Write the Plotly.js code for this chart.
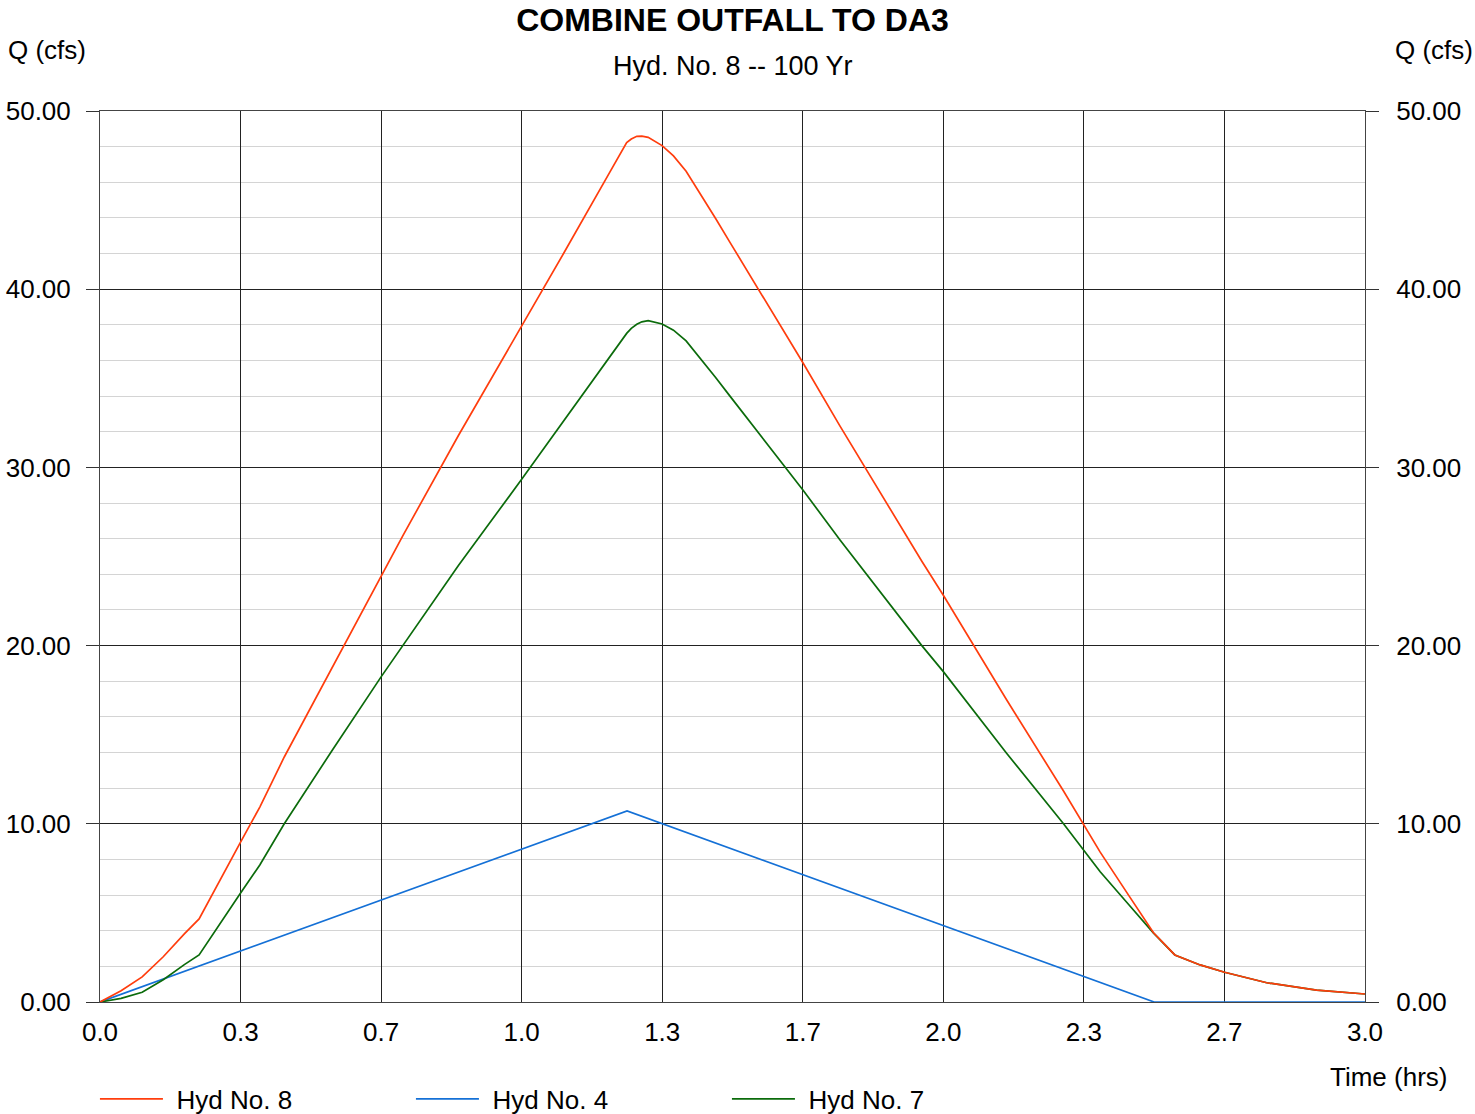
<!DOCTYPE html>
<html>
<head>
<meta charset="utf-8">
<script src="https://cdn.plot.ly/plotly-3.0.1.min.js"></script>
<style>
  html, body { margin: 0; padding: 0; background: #fff; }
  #chart { width: 1475px; height: 1114px; }
</style>
</head>
<body>
<div id="chart"></div>
<script>
// Hydrograph ordinates, time in hours, flow in cfs
const timeHyd7 = [0, 0.05, 0.10, 0.15, 0.20, 0.235, 0.333, 0.379, 0.437, 0.55, 0.667, 0.718, 0.85, 1.0, 1.1, 1.2,
  1.249, 1.26, 1.273, 1.285, 1.30, 1.333, 1.36, 1.39, 1.423, 1.46, 1.494, 1.55, 1.624, 1.667, 1.755, 1.85, 1.913,
  1.949, 2.0, 2.15, 2.285, 2.333, 2.372, 2.44, 2.498, 2.549, 2.609, 2.667, 2.767, 2.885, 3.0];
const flowHyd7 = [0, 0.2, 0.55, 1.25, 2.1, 2.64, 6.1, 7.69, 10.0, 14.1, 18.26, 20.0, 24.5, 29.33, 32.6, 35.9,
  37.52, 37.8, 38.03, 38.17, 38.23, 38.05, 37.7, 37.1, 36.15, 35.05, 34.0, 32.3, 30.0, 28.73, 25.93, 23.0, 21.06,
  20.0, 18.54, 13.96, 10.0, 8.53, 7.31, 5.46, 3.88, 2.64, 2.08, 1.67, 1.08, 0.67, 0.45];

const timeHyd8 = timeHyd7;
const flowHyd8 = [0, 0.63, 1.41, 2.54, 3.82, 4.66, 8.96, 10.94, 13.75, 18.75, 23.98, 26.16, 31.79, 37.91, 42.03, 46.19,
  48.23, 48.43, 48.58, 48.59, 48.52, 48.06, 47.48, 46.62, 45.39, 43.97, 42.63, 40.45, 37.51, 35.87, 32.32, 28.57, 26.08,
  24.73, 22.83, 16.96, 11.84, 9.96, 8.41, 5.97, 3.90, 2.64, 2.08, 1.67, 1.08, 0.67, 0.45];

const timeHyd4 = [0, 1.25, 2.5, 3.0];
const flowHyd4 = [0, 10.72, 0, 0];

const seriesNames = ['Hyd No. 8', 'Hyd No. 4', 'Hyd No. 7'];
const seriesColors = ['#ff3d0d', '#1470d6', '#0b6b0b'];

const xTickVals = [0, 1/3, 2/3, 1, 4/3, 5/3, 2, 7/3, 8/3, 3];
const xTickText = ['0.0', '0.3', '0.7', '1.0', '1.3', '1.7', '2.0', '2.3', '2.7', '3.0'];

const chartTitle = 'COMBINE OUTFALL TO DA3';
const chartSubtitle = 'Hyd. No. 8 -- 100 Yr';
const yLabel = 'Q (cfs)';
const xLabel = 'Time (hrs)';

const FONT = '"Liberation Sans", Arial, Helvetica, sans-serif';
const LW = 1.7;
// small gap between legend key line and its label
const KEY_GAP = '\u2006\u2006';

const traces = [
  { x: timeHyd4, y: flowHyd4, name: KEY_GAP + seriesNames[1], legendrank: 2, mode: 'lines',
    line: { color: seriesColors[1], width: LW }, hoverinfo: 'skip' },
  { x: timeHyd7, y: flowHyd7, name: KEY_GAP + seriesNames[2], legendrank: 3, mode: 'lines',
    line: { color: seriesColors[2], width: LW }, hoverinfo: 'skip' },
  { x: timeHyd8, y: flowHyd8, name: KEY_GAP + seriesNames[0], legendrank: 1, mode: 'lines',
    line: { color: seriesColors[0], width: LW }, hoverinfo: 'skip' },
  // carries the right-hand flow scale
  { x: timeHyd4, y: flowHyd4, yaxis: 'y2', mode: 'lines', showlegend: false,
    line: { color: 'rgba(0,0,0,0)', width: 0 }, hoverinfo: 'skip' }
];

const yAxisCommon = {
  range: [0, 50], tick0: 0, dtick: 10, tickformat: '.2f',
  ticks: 'outside', ticklen: 13, tickwidth: 1, tickcolor: '#333',
  tickfont: { family: FONT, size: 26, color: '#000' },
  zeroline: false, fixedrange: true
};

const layout = {
  width: 1475, height: 1114,
  margin: { l: 100, r: 110, t: 111, b: 112, autoexpand: false },
  paper_bgcolor: '#fff', plot_bgcolor: '#fff',
  font: { family: FONT, size: 26, color: '#000' },
  showlegend: true,
  title: {
    text: '<b>' + chartTitle + '</b>',
    font: { family: FONT, size: 32, color: '#000' },
    xref: 'paper', x: 0.5, xanchor: 'center',
    yref: 'container', y: 1 - 20 / 1114, yanchor: 'middle'
  },
  xaxis: {
    range: [0, 3], tickmode: 'array', tickvals: xTickVals, ticktext: xTickText,
    ticks: '', ticklabelstandoff: 7,
    tickfont: { family: FONT, size: 26, color: '#000' },
    showgrid: true, gridcolor: '#222', gridwidth: 1,
    showline: true, linecolor: '#444', linewidth: 1, mirror: true,
    zeroline: false, fixedrange: true
  },
  yaxis: Object.assign({}, yAxisCommon, {
    side: 'left', ticklabelstandoff: 10,
    showgrid: true, gridcolor: '#222', gridwidth: 1,
    minor: { dtick: 2, tick0: 0, showgrid: true, gridcolor: '#d4d4d4', gridwidth: 1, ticks: '' },
    showline: true, linecolor: '#444', linewidth: 1, mirror: true
  }),
  yaxis2: Object.assign({}, yAxisCommon, {
    side: 'right', overlaying: 'y', ticklabelstandoff: 12, showgrid: false, showline: false
  }),
  legend: {
    orientation: 'h', x: -0.004, xanchor: 'left',
    y: -97 / 891, yanchor: 'middle',
    entrywidth: 238, entrywidthmode: 'pixels', itemwidth: 63,
    font: { family: FONT, size: 26, color: '#000' },
    bgcolor: 'rgba(0,0,0,0)', borderwidth: 0
  },
  annotations: [
    { text: chartSubtitle, xref: 'paper', yref: 'paper', x: 0.5, y: 1 + 45 / 891,
      xanchor: 'center', yanchor: 'middle', showarrow: false, font: { family: FONT, size: 27 } },
    { text: yLabel, xref: 'paper', yref: 'paper', x: -53 / 1265, y: 1 + 61 / 891,
      xanchor: 'center', yanchor: 'middle', showarrow: false, font: { family: FONT, size: 26 } },
    { text: yLabel, xref: 'paper', yref: 'paper', x: 1 + 69 / 1265, y: 1 + 61 / 891,
      xanchor: 'center', yanchor: 'middle', showarrow: false, font: { family: FONT, size: 26 } },
    { text: xLabel, xref: 'paper', yref: 'paper', x: 1 + 24 / 1265, y: -75 / 891,
      xanchor: 'center', yanchor: 'middle', showarrow: false, font: { family: FONT, size: 26 } }
  ]
};

Plotly.newPlot('chart', traces, layout, { displayModeBar: false, staticPlot: true });
</script>
</body>
</html>
